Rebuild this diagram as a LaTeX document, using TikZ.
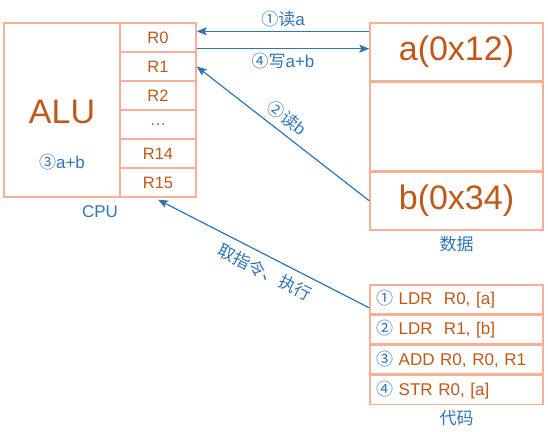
\documentclass[tikz,border=0pt]{standalone}
\usepackage{fontspec}
\setmainfont{Liberation Sans}
\newfontfamily\cjk{Noto Sans CJK SC}
\usetikzlibrary{positioning, calc, arrows.meta}
\definecolor{boxline}{RGB}{247,176,150}
\definecolor{valtext}{RGB}{192,88,26}
\definecolor{flowblue}{RGB}{46,117,182}
\begin{document}
\begin{tikzpicture}[x=1pt, y=-1pt,
        cellbox/.style={draw=boxline, line width=1.4pt, inner sep=0pt},
        regcell/.style={cellbox, minimum width=76pt, minimum height=29pt, text=valtext, font=\fontsize{16.5}{18}\selectfont},
        datacell/.style={cellbox, minimum width=173pt, text=valtext, font=\fontsize{34}{38}\selectfont},
        codecell/.style={cellbox, minimum height=28.75pt, text width=161pt, inner xsep=6pt, align=left, text=valtext, font=\fontsize{17}{19}\selectfont},
        caption/.style={text=flowblue, font=\fontsize{17}{19}\selectfont},
        flow/.style={draw=flowblue, line width=1.2pt, -{Stealth[length=10pt, width=8pt, inset=2pt]}},
        flowlabel/.style={text=flowblue, font=\fontsize{17}{19}\selectfont}]
        \useasboundingbox (0,0) rectangle (548,431);

        % ==========================================
        % CPU: ALU and registers
        % ==========================================
        \node[cellbox, minimum width=116pt, minimum height=174pt] (alu) at (62,110) {};
        \node[text=valtext, font=\fontsize{34}{38}\selectfont] (alutext) at ([yshift=-2pt]alu.center) {ALU};
        \node[caption] (aplusb) at ([yshift=-52pt]alu.center) {{\cjk ③}a+b};
        \foreach \r [count=\i] in {R0, R1, R2, \ldots, R14, R15}
            \node[regcell] (reg\i) at (158, {23+29*\i-14.5}) {\r};
        \node[caption, below=4pt] (cpu) at ($(alu.south west)!0.5!(reg6.south east)$) {CPU};

        % ==========================================
        % Data memory
        % ==========================================
        \node[datacell, minimum height=58pt] (dataA) at (456.5,52) {a(0x12)};
        \node[datacell, minimum height=88pt, below=0pt of dataA] (dataM) {};
        \node[datacell, minimum height=58pt, below=0pt of dataM] (dataB) {b(0x34)};
        \node[caption, below=2pt of dataB, font=\cjk\fontsize{17}{19}\selectfont] (datacap) {数据};

        % ==========================================
        % Code memory
        % ==========================================
        \node[codecell] (code1) at (456.5,299.4) {\textcolor{flowblue}{\cjk ①} LDR\ \ R0, [a]};
        \node[codecell, below=0pt of code1] (code2) {\textcolor{flowblue}{\cjk ②} LDR\ \ R1, [b]};
        \node[codecell, below=0pt of code2] (code3) {\textcolor{flowblue}{\cjk ③} ADD R0, R0, R1};
        \node[codecell, below=0pt of code3] (code4) {\textcolor{flowblue}{\cjk ④} STR R0, [a]};
        \node[caption, below=2pt of code4, font=\cjk\fontsize{17}{19}\selectfont] (codecap) {代码};

        % ==========================================
        % Transfers
        % ==========================================
        \coordinate (readA) at ([yshift=-9pt]dataA.north west);
        \coordinate (writeA) at ([yshift=4pt]reg1.south east);
        \coordinate (fetch) at ([yshift=-8.5pt]code1.west);
        \draw[flow] (readA) -- (reg1.east |- readA)
            node[flowlabel, midway, above=0pt] {{\cjk ①读}a};
        \draw[flow] (writeA) -- (dataA.west |- writeA)
            node[flowlabel, midway, below=0pt] {{\cjk ④写}a+b};
        \draw[flow] (dataB.west) -- (reg2.east)
            node[flowlabel, pos=0.53, sloped, above=3pt] {{\cjk ②读}b};
        \draw[flow] (fetch) -- ([yshift=-2pt]reg6.south)
            node[flowlabel, pos=0.46, sloped, below=4pt, font=\cjk\fontsize{17}{19}\selectfont] {取指令、执行};

\end{tikzpicture}
\end{document}
